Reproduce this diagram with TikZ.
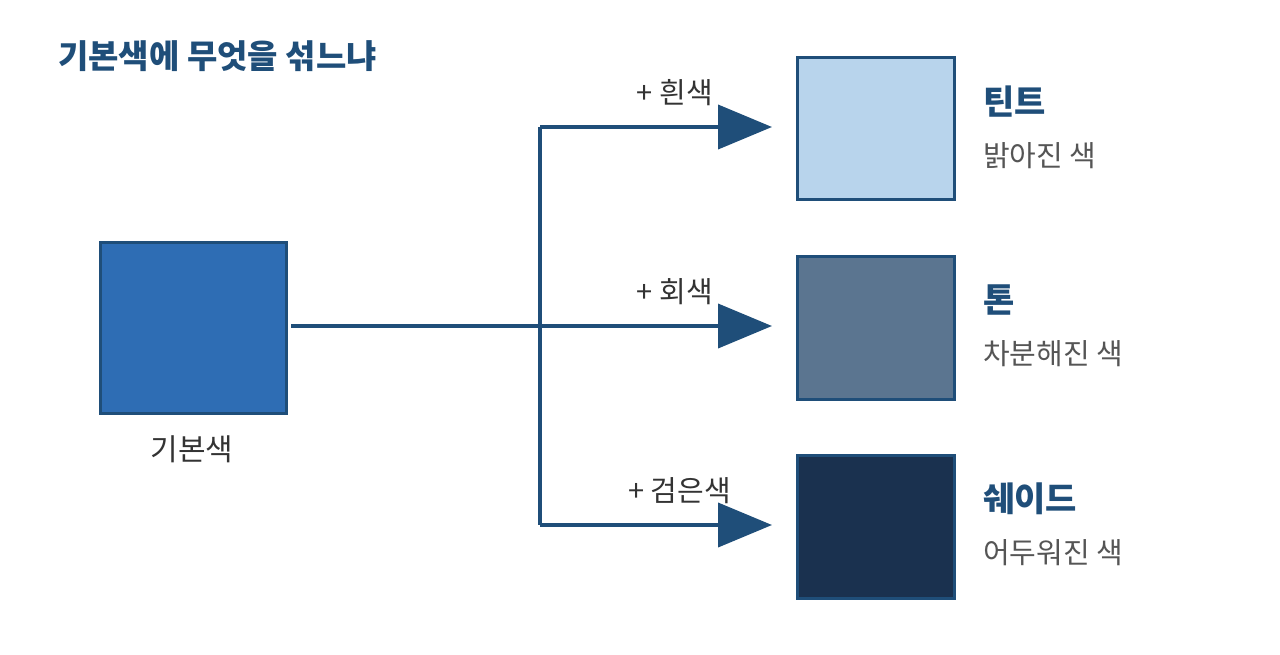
\documentclass[tikz,border=0pt]{standalone}
\usepackage{fontspec}
\setmainfont{Noto Sans CJK KR}
\usetikzlibrary{arrows.meta}
\definecolor{dk}{HTML}{1F4E79}
\definecolor{base}{HTML}{2E6DB4}
\definecolor{tint}{HTML}{B8D4EC}
\definecolor{tone}{HTML}{5B7590}
\definecolor{shade}{HTML}{1A314F}
\definecolor{tx}{HTML}{333333}
\definecolor{sub}{HTML}{555555}
\begin{document}
\begin{tikzpicture}[x=1pt,y=-1pt,
  sq/.style={draw=dk,line width=3pt,inner sep=0pt,anchor=north west},
  conn/.style={draw=dk,line width=4pt},
  arr/.style={conn,-{Triangle[length=54pt,width=44pt]}},
  lab/.style={font=\fontsize{29}{32}\selectfont,text=tx,anchor=base east,inner sep=0pt},
  ttl/.style={font=\fontsize{34}{38}\selectfont\bfseries,text=dk,anchor=base west,inner sep=0pt},
  sbt/.style={font=\fontsize{29}{32}\selectfont,text=sub,anchor=base west,inner sep=0pt}]
\useasboundingbox (0,0) rectangle (1280,654);
\node[ttl,font=\fontsize{33}{38}\selectfont\bfseries] (title) at (58,68) {기본색에 무엇을 섞느냐};
\node[sq,fill=base,minimum width=186pt,minimum height=171pt] (b) at (99,241) {};
\node[font=\fontsize{30}{34}\selectfont,text=tx,anchor=base,inner sep=0pt] (bl) at (192,460) {기본색};
\node[sq,fill=tint,minimum width=157pt,minimum height=142pt] (t) at (796,56) {};
\node[sq,fill=tone,minimum width=157pt,minimum height=143pt] (o) at (796,255) {};
\node[sq,fill=shade,minimum width=157pt,minimum height=143pt] (s) at (796,454) {};
\coordinate (st) at (291,326);
\coordinate (j) at (540,326);
\coordinate (jt) at (540,127);
\coordinate (js) at (540,525);
\coordinate (et) at (772,127);
\coordinate (eo) at (772,326);
\coordinate (es) at (772,525);
\draw[arr] (st) -- (eo);
\draw[conn] (jt) -- (js);
\draw[arr] (jt) -- (et);
\draw[arr] (js) -- (es);
\node[lab] (lt) at (713,103) {+ 흰색};
\node[lab] (lo) at (713,302) {+ 회색};
\node[lab] (ls) at (731,501) {+ 검은색};
\node[ttl] (tt) at (983,114) {틴트};
\node[sbt] (ts) at (983,166) {밝아진 색};
\node[ttl] (ot) at (983,312) {톤};
\node[sbt] (os) at (983,364) {차분해진 색};
\node[ttl] (stt) at (983,511) {쉐이드};
\node[sbt] (ss) at (983,563) {어두워진 색};
\end{tikzpicture}
\end{document}
